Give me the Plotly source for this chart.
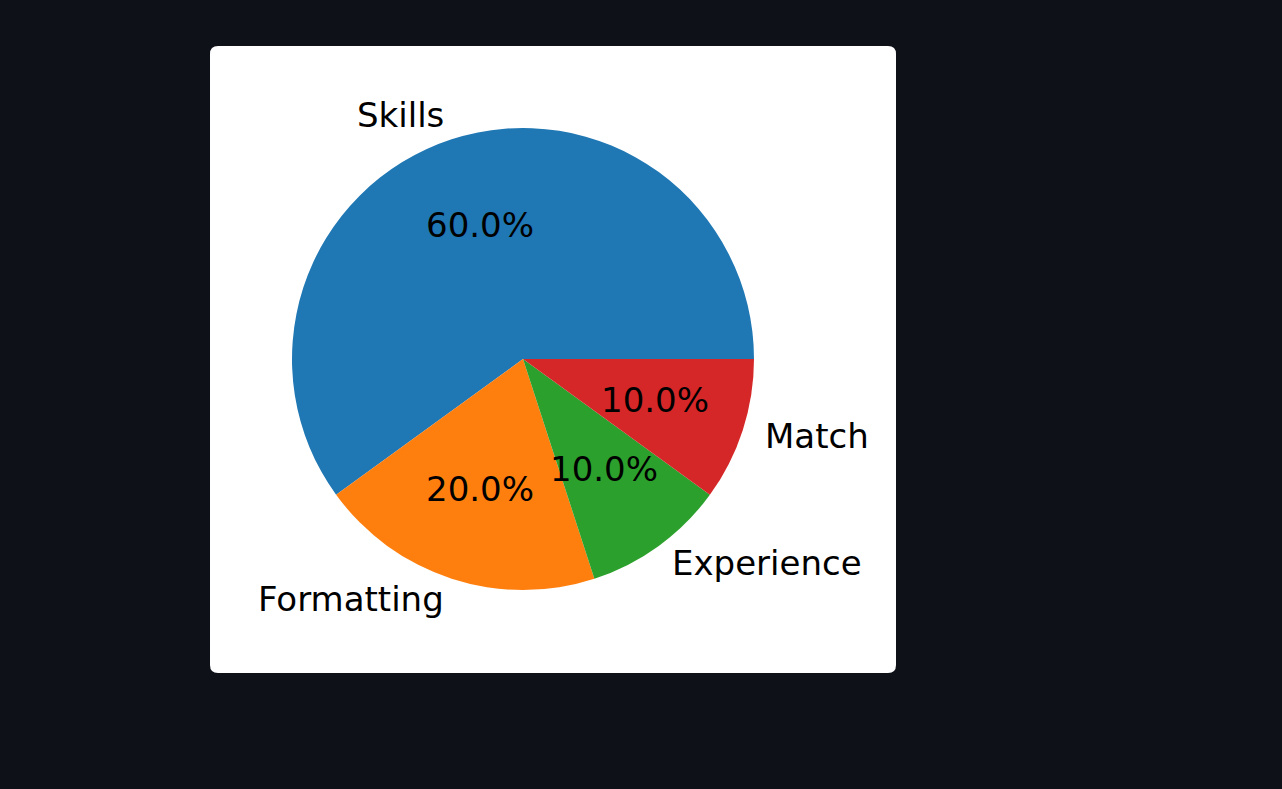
import numpy as np
import plotly.graph_objects as go

labels = ["Skills", "Formatting", "Experience", "Match"]
values = [60, 20, 10, 10]
colors = ["#1f77b4", "#ff7f0e", "#2ca02c", "#d62728"]

W, H = 1282, 789
cx, cy, R = 523, 359, 231  # pie center & radius in px
card = (210, 46, 896, 673)
cr = 8

def px(x):
    return x / W

def py(y):
    return 1 - y / H

vals = np.array(values, dtype=float)
fr = vals / vals.sum()

# plotly (counterclockwise): rotation marks where the first slice ENDS;
# we want the first slice to start at 3 o'clock (matplotlib startangle=0)
rotation = 90 - 360 * fr[0]

fig = go.Figure()
fig.add_trace(go.Pie(
    labels=labels, values=values, sort=False, direction="counterclockwise",
    rotation=rotation, marker=dict(colors=colors, line=dict(width=0)),
    textinfo="none", hoverinfo="label+percent", showlegend=False,
    domain=dict(x=[px(cx - R), px(cx + R)], y=[py(cy + R), py(cy - R)]),
))

# card background
x0, y0, x1, y1 = card
rx, ry = cr / W, cr / H
X0, X1, Y0, Y1 = px(x0), px(x1), py(y1), py(y0)
path = (f"M {X0+rx},{Y0} L {X1-rx},{Y0} Q {X1},{Y0} {X1},{Y0+ry} "
        f"L {X1},{Y1-ry} Q {X1},{Y1} {X1-rx},{Y1} L {X0+rx},{Y1} "
        f"Q {X0},{Y1} {X0},{Y1-ry} L {X0},{Y0+ry} Q {X0},{Y0} {X0+rx},{Y0} Z")
fig.add_shape(type="path", path=path, xref="paper", yref="paper",
              fillcolor="white", line=dict(width=0), layer="below")

ends = np.cumsum(fr) * 360
starts = ends - fr * 360
mids = np.deg2rad((starts + ends) / 2)
font = dict(family="DejaVu Sans", size=34, color="black")
for lab, f, m in zip(labels, fr, mids):
    c, s = np.cos(m), np.sin(m)
    lx, ly = cx + 1.1 * R * c, cy - 1.1 * R * s
    fig.add_annotation(x=px(lx), y=py(ly), xref="paper", yref="paper",
                       text=lab, showarrow=False, font=font,
                       xanchor="left" if c > 0 else "right", yanchor="middle",
                       xshift=-2 if c > 0 else 2, yshift=2)
    tx, ty = cx + 0.6 * R * c, cy - 0.6 * R * s
    fig.add_annotation(x=px(tx), y=py(ty), xref="paper", yref="paper",
                       text=f"{f*100:.1f}%", showarrow=False, font=font,
                       xanchor="center", yanchor="middle", yshift=2)

fig.update_layout(width=W, height=H, margin=dict(l=0, r=0, t=0, b=0),
                  paper_bgcolor="#0e1117", plot_bgcolor="#0e1117")
fig.write_html("out.html")
